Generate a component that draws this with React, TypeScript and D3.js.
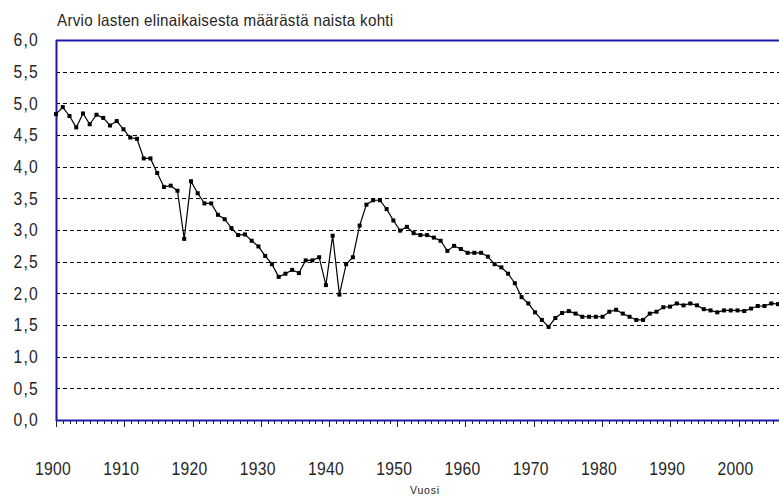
import React from "react";
import * as d3 from "d3";

const years: number[] = d3.range(1900, 2008);
const values: number[] = [
  4.83, 4.94, 4.80, 4.62, 4.84, 4.67, 4.82, 4.77, 4.65, 4.72,
  4.59, 4.46, 4.44, 4.13, 4.13, 3.90, 3.68, 3.70, 3.62, 2.86,
  3.77, 3.58, 3.42, 3.42, 3.24, 3.17, 3.03, 2.92, 2.93, 2.83,
  2.74, 2.59, 2.46, 2.26, 2.31, 2.37, 2.32, 2.52, 2.52, 2.57,
  2.13, 2.91, 1.98, 2.46, 2.57, 3.07, 3.40, 3.47, 3.47, 3.33,
  3.15, 2.99, 3.05, 2.95, 2.92, 2.92, 2.88, 2.83, 2.67, 2.75,
  2.70, 2.64, 2.64, 2.64, 2.58, 2.46, 2.41, 2.31, 2.16, 1.94,
  1.84, 1.70, 1.58, 1.47, 1.61, 1.69, 1.72, 1.68, 1.63, 1.63,
  1.63, 1.63, 1.71, 1.74, 1.68, 1.63, 1.58, 1.58, 1.68, 1.71,
  1.78, 1.79, 1.84, 1.81, 1.84, 1.81, 1.75, 1.73, 1.70, 1.73,
  1.73, 1.73, 1.72, 1.76, 1.80, 1.80, 1.84, 1.83,
];
const yTicks: number[] = [0, 0.5, 1, 1.5, 2, 2.5, 3, 3.5, 4, 4.5, 5, 5.5, 6];
const xLabelYears: number[] = [1900, 1910, 1920, 1930, 1940, 1950, 1960, 1970, 1980, 1990, 2000];
const title = "Arvio lasten elinaikaisesta määrästä naista kohti";
const xTitle = "Vuosi";

export default function App() {
  const W = 779, H = 497;
  const left = 56, top = 40, bottom = 420;
  const x = d3.scaleLinear().domain([1900, 2007]).range([left, 778]);
  const xAxis = d3.scaleLinear().domain([1900, 2000]).range([left, 738.5]);
  const minorTicks = d3.range(1900, 2007).filter(yr => xAxis(yr) <= W);
  const y = d3.scaleLinear().domain([0, 6]).range([bottom, top]);
  const pts = years.map((yr, i) => [x(yr), y(values[i])] as [number, number]);
  const line = d3.line<[number, number]>()(pts) || "";
  const font = "'Liberation Sans', Arial, sans-serif";
  const axisColor = "#1a1aa6";
  const txt = "#262626";
  return (
    <svg width={W} height={H} style={{ position: "fixed", left: 0, top: 0, background: "#fff" }}>
      <rect x={0} y={0} width={W} height={H} fill="#fff" />
      <text x={57} y={26} fontFamily={font} fontSize={16.5} letterSpacing={0.3} fill={txt}
        transform="translate(57,26) scale(0.92,1) translate(-57,-26)">{title}</text>
      {yTicks.filter(t => t > 0 && t < 6).map(t => (
        <line key={t} x1={left} x2={W} y1={Math.round(y(t)) + 0.5} y2={Math.round(y(t)) + 0.5}
          stroke="#000" strokeWidth={1} strokeDasharray="4,3" />
      ))}
      {yTicks.map(t => (
        <text key={"l" + t} x={0} y={0} dy="0.36em" textAnchor="end" fontFamily={font} fontSize={18}
          letterSpacing={1.4} fill={txt}
          transform={`translate(39,${y(t)}) scale(0.87,1)`}>{d3.format(".1f")(t).replace(".", ",")}</text>
      ))}
      {minorTicks.map(yr => (
        <line key={"t" + yr} x1={Math.round(xAxis(yr)) + 0.5} x2={Math.round(xAxis(yr)) + 0.5} y1={bottom}
          y2={bottom + (yr % 10 === 0 ? 7 : 4)} stroke="#222" strokeWidth={1} />
      ))}
      {xLabelYears.map(yr => (
        <text key={"x" + yr} x={0} y={0} textAnchor="middle" fontFamily={font} fontSize={18}
          letterSpacing={0.3} fill={txt}
          transform={`translate(${xAxis(yr) - 3},475) scale(0.87,1)`}>{yr}</text>
      ))}
      <text x={425} y={494} textAnchor="middle" fontFamily={font} fontSize={10.5} letterSpacing={0.8} fill={txt}>{xTitle}</text>
      <line x1={left + 0.5} x2={left + 0.5} y1={top} y2={bottom + 1} stroke={axisColor} strokeWidth={2} />
      <line x1={left} x2={W} y1={top + 0.5} y2={top + 0.5} stroke={axisColor} strokeWidth={2} />
      <line x1={left} x2={W} y1={bottom + 0.5} y2={bottom + 0.5} stroke={axisColor} strokeWidth={2} />
      <path d={line} fill="none" stroke="#000" strokeWidth={1.2} />
      {pts.map((p, i) => (
        <rect key={"m" + i} x={p[0] - 2} y={p[1] - 2} width={4} height={4} fill="#000" />
      ))}
    </svg>
  );
}
